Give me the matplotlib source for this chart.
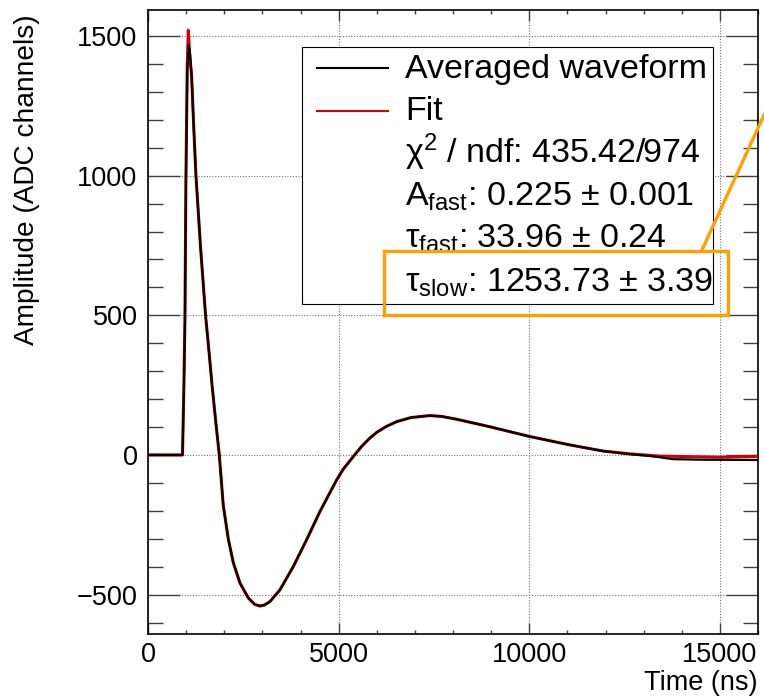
import numpy as np
import matplotlib
matplotlib.use("Agg")
import matplotlib.pyplot as plt
from matplotlib.patches import Rectangle
from matplotlib.lines import Line2D

plt.rcParams['font.family'] = ['Liberation Sans', 'DejaVu Sans']
plt.rcParams['mathtext.fontset'] = 'custom'
plt.rcParams['mathtext.rm'] = 'Liberation Sans'
plt.rcParams['mathtext.it'] = 'Liberation Sans:italic'
plt.rcParams['mathtext.bf'] = 'Liberation Sans:bold'

# averaged waveform (ns, ADC channels)
wave_t = [0, 905, 943, 970, 996, 1030, 1070, 1100, 1145, 1200, 1258, 1375,
          1510, 1600, 1680, 1780, 1870, 1974, 2105, 2236, 2411, 2630, 2800,
          2936, 3050, 3198, 3460, 3809, 4159, 4508, 4945, 5120, 5400, 5600,
          5800, 6000, 6250, 6518, 6900, 7392, 7700, 8091, 8965, 10013, 11061,
          11935, 12635, 13100, 13420, 13760, 14500, 16000]
wave_a = [0, 0, 245, 483, 995, 1378, 1468, 1440, 1353, 1170, 1000, 750,
          500, 370, 250, 115, 0, -180, -300, -385, -458, -512, -535,
          -540, -537, -525, -483, -400, -304, -203, -90, -51, -3, 30,
          58, 81, 102, 119, 134, 141, 138, 128, 101, 66, 36,
          14, 3, -3, -8, -15, -17, -18]

# fit curve
fit_t = [0, 905, 940, 968, 995, 1030, 1057, 1090, 1145, 1200, 1258, 1375,
         1510, 1600, 1680, 1780, 1870, 1974, 2105, 2236, 2411, 2630, 2800,
         2936, 3050, 3198, 3460, 3809, 4159, 4508, 4945, 5120, 5400, 5600,
         5800, 6000, 6250, 6518, 6900, 7392, 7700, 8091, 8965, 10013, 11061,
         11935, 12635, 13420, 14990, 16000]
fit_a = [0, 0, 240, 480, 990, 1400, 1520, 1440, 1355, 1172, 1000, 750,
         500, 370, 250, 115, 0, -180, -300, -385, -458, -512, -535,
         -541, -538, -525, -483, -400, -304, -203, -90, -51, -3, 30,
         58, 81, 102, 119, 134, 141, 138, 128, 101, 66, 36,
         14, 4, -4, -8, -5]

legend_rows = ['Averaged waveform', 'Fit',
               'χ$^{2}$ / ndf: 435.42/974',
               'A$_{\\mathrm{fast}}$: 0.225 ± 0.001',
               'τ$_{\\mathrm{fast}}$: 33.96 ± 0.24',
               'τ$_{\\mathrm{slow}}$: 1253.73 ± 3.39']

W, H = 764, 697
fig = plt.figure(figsize=(W / 100, H / 100), dpi=100)
ax = fig.add_axes([148 / W, 1 - 634 / H, (758 - 148) / W, (634 - 10) / H])

ax.plot(fit_t, fit_a, color='#d40000', lw=2.2, zorder=3)
ax.plot(wave_t, wave_a, color='black', lw=1.6, zorder=4)

ax.set_xlim(0, 16000)
ax.set_ylim(-641, 1593)
ax.set_xticks([0, 5000, 10000, 15000])
ax.set_xticks(np.arange(0, 16001, 1000), minor=True)
ax.set_yticks([-500, 0, 500, 1000, 1500])
ax.set_yticks(np.arange(-600, 1600, 100), minor=True)
ax.set_yticklabels(['\u2212500', '0', '500', '1000', '1500'])

ax.tick_params(which='both', direction='in', top=True, right=True,
               labelsize=19.5, width=1.0, color='0.25')
ax.tick_params(axis='x', which='major', length=8, pad=6)
ax.tick_params(axis='x', which='minor', length=3)
ax.tick_params(axis='y', which='major', length=23, pad=7.5)
ax.tick_params(axis='y', which='minor', length=11)
ax.grid(True, which='major', linestyle=(0, (1, 1.5)), color='0.45', lw=0.8)
for s in ax.spines.values():
    s.set_linewidth(1.2)

fig.text(758 / W, 1 - 683 / H, 'Time (ns)', ha='right', va='center', fontsize=19.5)
fig.text(27 / W, 1 - 14 / H, 'Amplitude (ADC channels)', ha='center', va='top',
         rotation=90, fontsize=20.2)

# legend box
fig.patches.append(Rectangle((301.7 / W, 1 - 304 / H), (712.7 - 301.7) / W, (304 - 47.3) / H,
                             transform=fig.transFigure, facecolor='white',
                             edgecolor='black', lw=0.8, zorder=5))
fig.lines.append(Line2D([316.7 / W, 387.7 / W], [1 - 67.7 / H, 1 - 67.7 / H],
                        transform=fig.transFigure, color='black', lw=1.5, zorder=6))
fig.lines.append(Line2D([316.7 / W, 387.7 / W], [1 - 111 / H, 1 - 111 / H],
                        transform=fig.transFigure, color='#d40000', lw=1.5, zorder=6))
baselines = [78.3, 120, 163.3, 206, 248, 291.7]
for txt, yb in zip(legend_rows, baselines):
    fig.text(405 / W, 1 - yb / H, txt, ha='left', va='baseline', fontsize=24.5, zorder=7)

# orange highlight
fig.patches.append(Rectangle((384 / W, 1 - 315 / H), (728 - 384) / W, (315 - 251) / H,
                             transform=fig.transFigure, facecolor='none',
                             edgecolor='#ffa000', lw=2.4, zorder=8))
fig.lines.append(Line2D([702 / W, 770 / W], [1 - 250 / H, 1 - 102 / H],
                        transform=fig.transFigure, color='#ffa000', lw=2.4, zorder=8))

fig.savefig('out.png', dpi=100)
